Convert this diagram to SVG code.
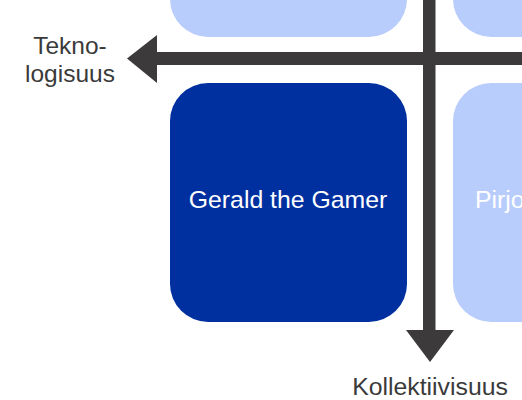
<svg xmlns="http://www.w3.org/2000/svg" width="522" height="400" viewBox="0 0 522 400">
<style>
.light{fill:#b9cdfd}
.dark{fill:#0030a0}
.lbl{font-family:"Liberation Sans",Arial,sans-serif;font-size:24.5px;fill:#3a3a3a}
.ntxt{font-family:"Liberation Sans",Arial,sans-serif;font-size:24.8px;fill:#ffffff}
.axis{fill:#3c3a3a}
</style>
<rect width="522" height="400" fill="#ffffff"/>
<g id="node-top-left"><rect class="light" x="170" y="-200" width="237" height="237" rx="38"/></g>
<g id="node-top-right"><rect class="light" x="453" y="-200" width="237" height="237" rx="38"/></g>
<g id="node-gerald"><rect class="dark" x="170" y="83" width="237" height="239" rx="38"/><text class="ntxt" x="288" y="208" text-anchor="middle">Gerald the Gamer</text></g>
<g id="node-pirjo"><rect class="light" x="453" y="83" width="237" height="239" rx="38"/><text class="ntxt" x="475" y="208">Pirjo</text></g>
<g id="connectors">
<rect class="axis" x="157" y="52" width="365" height="13"/>
<polygon class="axis" points="157,35 157,83 127,58.5"/>
<rect class="axis" x="423" y="0" width="12.5" height="331"/>
<polygon class="axis" points="406,330 454,330 430,362"/>
</g>
<g id="labels">
<text class="lbl" x="70" y="54" text-anchor="middle">Tekno-</text>
<text class="lbl" x="70" y="82" text-anchor="middle">logisuus</text>
<text class="lbl" x="430" y="395" text-anchor="middle" style="font-size:24.8px">Kollektiivisuus</text>
</g>
</svg>
